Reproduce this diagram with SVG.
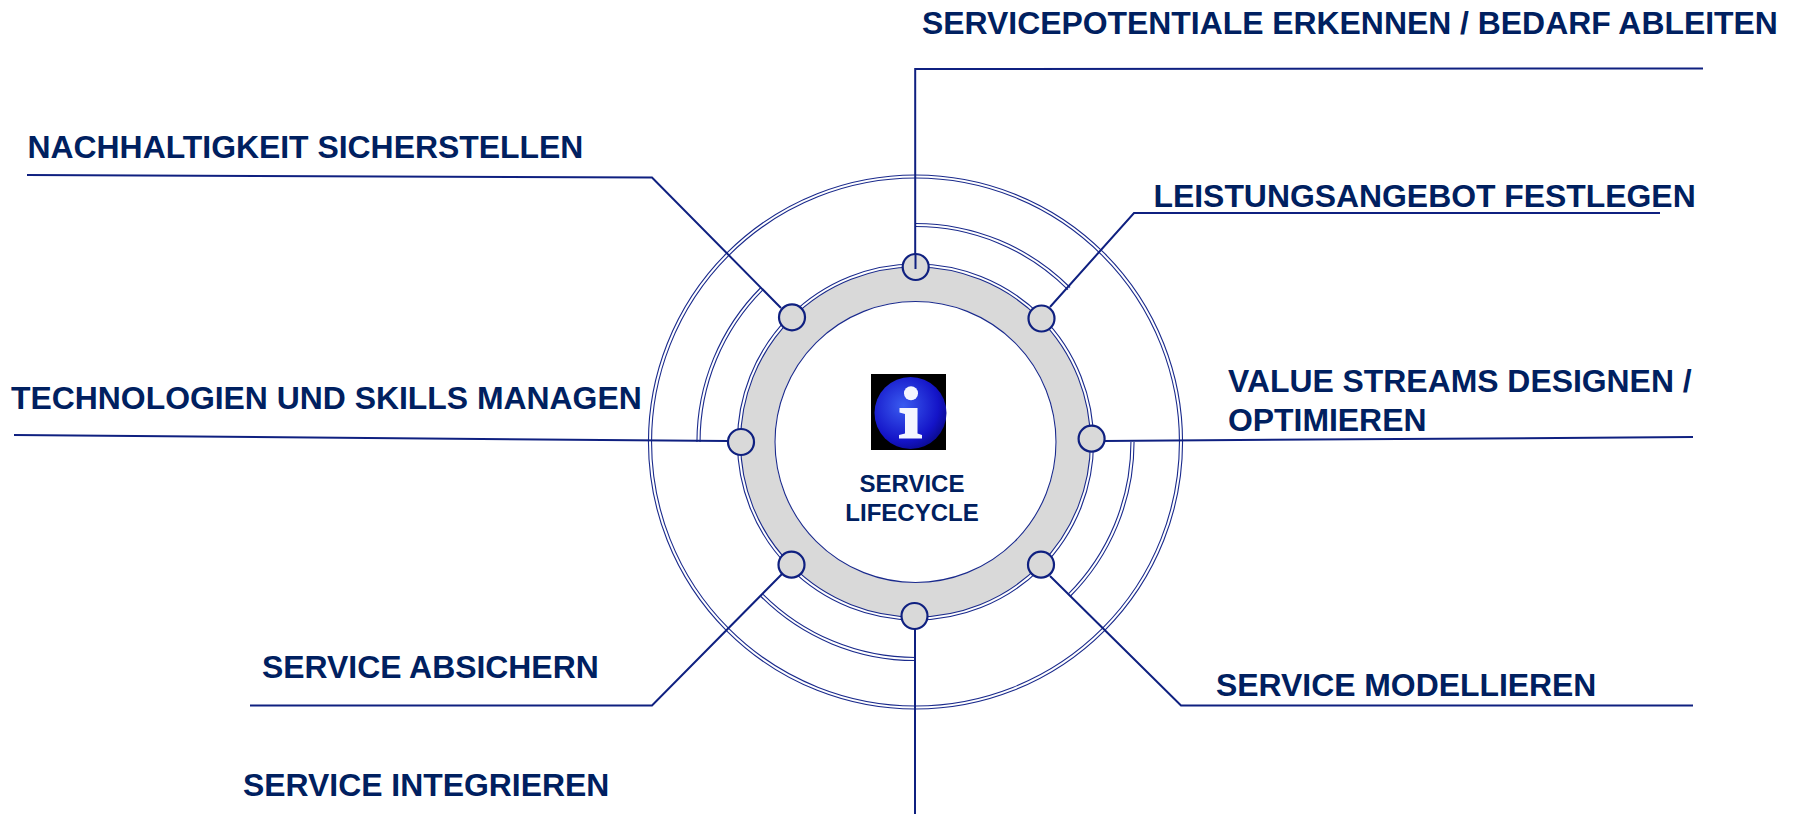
<svg xmlns="http://www.w3.org/2000/svg" width="1796" height="814" viewBox="0 0 1796 814">
<style>
.lbl{font-family:"Liberation Sans",Arial,sans-serif;font-weight:700;font-size:31.9px;fill:#002060}
.ctr{font-family:"Liberation Sans",Arial,sans-serif;font-weight:700;font-size:24px;fill:#002060;text-anchor:middle}
.dlo{fill:none;stroke:#1a2a8c;stroke-width:4.2}
.dli{fill:none;stroke:#fff;stroke-width:2}
.con{fill:none;stroke:#0f2080;stroke-width:2}
.nd{fill:#d9d9d9;stroke:#0f2080;stroke-width:2.2}
</style>
<defs>
<radialGradient id="blue" cx="0.4" cy="0.4" r="0.65">
<stop offset="0" stop-color="#3a5cf0"/><stop offset="0.75" stop-color="#1414c8"/><stop offset="1" stop-color="#0a0a90"/>
</radialGradient>
</defs>
<rect width="1796" height="814" fill="#fff"/>
<g id="rings">
<circle cx="915.5" cy="442" r="265.5" class="dlo"/><circle cx="915.5" cy="442" r="265.5" class="dli"/>
<circle cx="915.5" cy="442" r="159" fill="none" stroke="#d9d9d9" stroke-width="36"/>
<circle cx="915.5" cy="442" r="140.5" fill="#fff" stroke="#1a2a8c" stroke-width="1.1"/>
<circle cx="915.5" cy="442" r="176.5" class="dlo"/><circle cx="915.5" cy="442" r="176.5" class="dli"/>
<path class="dlo" d="M915.5 225A217 217 0 0 1 1069 288.6M1132.5 442A217 217 0 0 1 1069 595.4M915.5 659A217 217 0 0 1 762 595.4M698.5 442A217 217 0 0 1 762 288.6"/>
<path class="dli" d="M915.5 225A217 217 0 0 1 1069 288.6M1132.5 442A217 217 0 0 1 1069 595.4M915.5 659A217 217 0 0 1 762 595.4M698.5 442A217 217 0 0 1 762 288.6"/>
</g>
<g id="connectors">
<path class="con" d="M915.2 269V69L1703 68.5"/>
<path class="con" d="M1050 307L1134 213H1660"/>
<path class="con" d="M1103 441L1693 437"/>
<path class="con" d="M1050 576L1181 705.5H1693"/>
<path class="con" d="M915 629V814"/>
<path class="con" d="M782 574L652 705.5H250"/>
<path class="con" d="M728 441L14 435"/>
<path class="con" d="M781 308L652 177.5L27 175"/>
</g>
<g id="n-potential"><circle class="nd" cx="915.7" cy="267" r="13"/><path class="con" d="M915.5 254V269"/><text class="lbl" x="922" y="34">SERVICEPOTENTIALE ERKENNEN / BEDARF ABLEITEN</text></g>
<g id="n-angebot"><circle class="nd" cx="1041.5" cy="318.5" r="13"/><text class="lbl" x="1153.5" y="207">LEISTUNGSANGEBOT FESTLEGEN</text></g>
<g id="n-value"><circle class="nd" cx="1091.6" cy="438.7" r="13"/><text class="lbl" x="1228" y="392">VALUE STREAMS DESIGNEN /</text><text class="lbl" x="1228" y="431">OPTIMIEREN</text></g>
<g id="n-modell"><circle class="nd" cx="1041" cy="564.7" r="13"/><text class="lbl" x="1216" y="696">SERVICE MODELLIEREN</text></g>
<g id="n-integr"><circle class="nd" cx="914.5" cy="616" r="13"/><text class="lbl" x="243" y="796">SERVICE INTEGRIEREN</text></g>
<g id="n-absich"><circle class="nd" cx="791.5" cy="564.7" r="13"/><text class="lbl" x="262" y="678">SERVICE ABSICHERN</text></g>
<g id="n-tech"><circle class="nd" cx="741" cy="442" r="13"/><text class="lbl" x="11" y="409">TECHNOLOGIEN UND SKILLS MANAGEN</text></g>
<g id="n-nach"><circle class="nd" cx="792" cy="317.3" r="13"/><text class="lbl" x="27.5" y="158">NACHHALTIGKEIT SICHERSTELLEN</text></g>
<g id="center">
<rect x="871" y="374" width="75" height="76" fill="#000"/>
<circle cx="910.5" cy="413" r="36" fill="url(#blue)"/>
<circle cx="911" cy="393.3" r="7" fill="#f4f6ff"/>
<path fill="#f4f6ff" d="M899.5 408H917.5V433.5L922 435V438.5H899V435L905 433.5V414L899.5 412.5Z"/>
<text class="ctr" x="912" y="492">SERVICE</text>
<text class="ctr" x="912" y="521">LIFECYCLE</text>
</g>
</svg>
